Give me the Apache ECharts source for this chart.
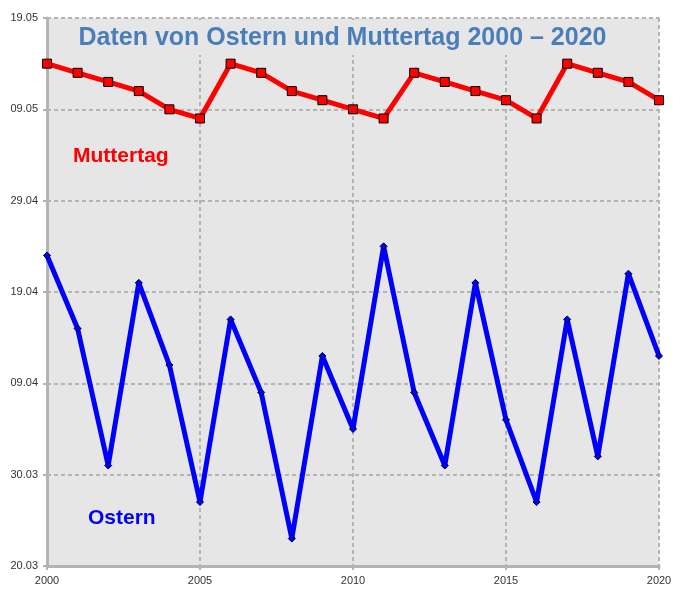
<!DOCTYPE html>
<html>
<head>
<meta charset="utf-8">
<script src="https://cdn.jsdelivr.net/npm/echarts@6/dist/echarts.min.js"></script>
<style>html,body{margin:0;padding:0;background:#fff}#c{width:685px;height:599px}</style>
</head>
<body>
<div id="c"></div>
<script>
// Jahre
const years = [2000,2001,2002,2003,2004,2005,2006,2007,2008,2009,2010,2011,2012,2013,2014,2015,2016,2017,2018,2019,2020];
// Ostersonntag (TT.MM)
const ostern = ['23.04','15.04','31.03','20.04','11.04','27.03','16.04','08.04','23.03','12.04','04.04','24.04','08.04','31.03','20.04','05.04','27.03','16.04','01.04','21.04','12.04'];
// Muttertag (TT.MM)
const muttertag = ['14.05','13.05','12.05','11.05','09.05','08.05','14.05','13.05','11.05','10.05','09.05','08.05','13.05','12.05','11.05','10.05','08.05','14.05','13.05','12.05','10.05'];
// Y-Achsen-Beschriftungen (alle 10 Tage ab 20.03)
const yTickLabels = ['20.03','30.03','09.04','19.04','29.04','09.05','19.05'];
const xTickLabels = ['2000','2005','2010','2015','2020'];

// Tage seit 20.03.
function dayOffset(s) {
  const d = parseInt(s.slice(0,2),10), m = parseInt(s.slice(3,5),10);
  const startOfMonth = {3: -20, 4: 11, 5: 41};
  return startOfMonth[m] + d;
}
const osternData = years.map((y,i)=>[y, dayOffset(ostern[i])]);
const mutterData = years.map((y,i)=>[y, dayOffset(muttertag[i])]);

const chart = echarts.init(document.getElementById('c'), null, {renderer:'canvas'});
const gridLine = {show:true, lineStyle:{color:'#b4b4b4', width:2, type:[4,3]}};
chart.setOption({
  backgroundColor:'#ffffff',
  animation:false,
  title:{
    text:'Daten von Ostern und Muttertag 2000 \u2013 2020',
    left:'center', top:20,
    padding:[6,8,4,8],
    backgroundColor:'#e6e6e6',
    textStyle:{fontFamily:'Liberation Sans, Arial, sans-serif', fontSize:25, fontWeight:'bold', color:'#4a7ebb'}
  },
  grid:{left:47, right:26, top:18, bottom:33, show:true, backgroundColor:'#e6e6e6', borderWidth:0},
  xAxis:{
    type:'value', min:2000, max:2020, interval:5,
    axisLine:{show:true, lineStyle:{color:'#b4b4b4', width:3}},
    axisTick:{show:true, length:4, lineStyle:{color:'#b4b4b4', width:2}},
    axisLabel:{color:'#333', fontFamily:'Liberation Sans, Arial, sans-serif', fontSize:11, margin:9,
      formatter:(v)=>xTickLabels[(v-2000)/5] || ''},
    splitLine:gridLine
  },
  yAxis:{
    type:'value', min:0, max:60, interval:10,
    axisLine:{show:true, lineStyle:{color:'#b4b4b4', width:3}},
    axisTick:{show:true, length:4, lineStyle:{color:'#b4b4b4', width:2}},
    axisLabel:{color:'#333', fontFamily:'Liberation Sans, Arial, sans-serif', fontSize:11, margin:9,
      formatter:(v)=>yTickLabels[v/10] || ''},
    splitLine:gridLine
  },
  series:[
    {
      name:'Muttertag', type:'line', data:mutterData, z:3,
      lineStyle:{color:'#ff0000', width:5},
      symbol:'rect', symbolSize:9, showAllSymbol:true,
      itemStyle:{color:'#ff0000', borderColor:'#000', borderWidth:1}
    },
    {
      name:'Ostern', type:'line', data:osternData, z:3,
      lineStyle:{color:'#0000ff', width:5},
      symbol:'diamond', symbolSize:7, showAllSymbol:true,
      itemStyle:{color:'#0000ff', borderColor:'#000030', borderWidth:1}
    }
  ],
  graphic:[
    {type:'text', left:73, top:146, z:10, style:{text:'Muttertag', fill:'#ff0000', font:'bold 21px "Liberation Sans", Arial, sans-serif'}},
    {type:'text', left:88, top:508, z:10, style:{text:'Ostern', fill:'#0000ff', font:'bold 21px "Liberation Sans", Arial, sans-serif'}}
  ]
});
</script>
</body>
</html>
